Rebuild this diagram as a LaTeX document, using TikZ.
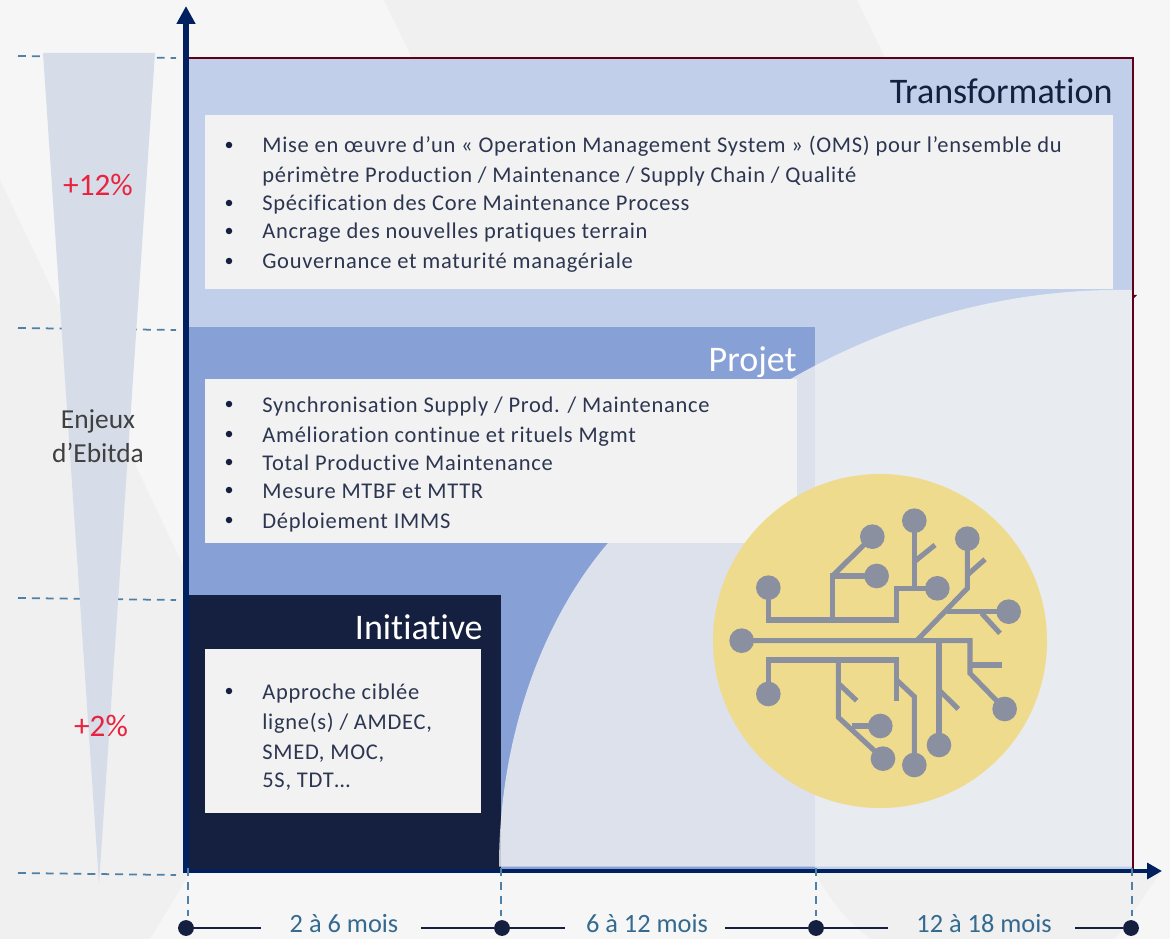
\documentclass[tikz,border=0pt]{standalone}
\usepackage{fontspec}
\setmainfont[Ligatures=NoCommon]{Carlito}
\newfontfamily\bodyfont[LetterSpace=3.2,Ligatures=NoCommon]{Carlito}
\usetikzlibrary{arrows.meta}
\definecolor{pagebg}{HTML}{F6F6F6}
\definecolor{swoosh}{HTML}{F0F0F0}
\definecolor{bandlight}{HTML}{C1CFEA}
\definecolor{bandmid}{HTML}{87A0D6}
\definecolor{banddark}{HTML}{152040}
\definecolor{panel}{HTML}{F2F2F2}
\definecolor{axisblue}{HTML}{002060}
\definecolor{frameline}{HTML}{600018}
\definecolor{guide}{HTML}{4F81A8}
\definecolor{wedge}{HTML}{D6DDE8}
\definecolor{gainred}{HTML}{E8233F}
\definecolor{bodytext}{HTML}{2C3650}
\definecolor{monthtext}{HTML}{346A90}
\definecolor{chipgold}{HTML}{EFDB8E}
\definecolor{chipline}{HTML}{8A909F}
\tikzset{
    guideline/.style={guide, line width=1pt, dash pattern=on 4.5pt off 3.4pt},
    panelbox/.style={fill=panel, draw=none},
    bodyline/.style={anchor=base west, inner sep=0pt, text=bodytext, font=\bodyfont\fontsize{12.8}{14}\selectfont},
    bulletdot/.style={circle, fill=banddark, inner sep=0pt, minimum size=3.7pt},
    bandtitle/.style={anchor=base east, inner sep=0pt, font=\fontsize{20.5}{24}\selectfont},
    gain/.style={text=gainred, inner sep=0pt, font=\fontsize{17.8}{20}\selectfont},
    monthlabel/.style={anchor=base, text=monthtext, inner sep=0pt, font=\fontsize{15}{16}\selectfont},
    monthdot/.style={circle, fill=banddark, inner sep=0pt, minimum size=9pt},
    monthline/.style={banddark, line width=1.5pt},
    track/.style={chipline, line width=2.9pt}
}
\begin{document}
\begin{tikzpicture}[x=0.02cm, y=-0.02cm]
    \useasboundingbox (0, 0) rectangle (1170, 939);
    \fill[pagebg] (0, 0) rectangle (1170, 939);

    % Faint shapes of the backdrop
    \fill[swoosh] (384, 0) -- (857, 0) -- (885, 58) -- (412, 58) -- cycle;
    \fill[swoosh] (0, 180) -- (190, 580) -- (190, 873) -- (150, 939) -- (0, 939) -- cycle;
    \fill[swoosh] (815, 873) .. controls (830, 900) and (850, 925) .. (871, 939) -- (1115, 939) -- (1160, 873) -- cycle;

    % The three nested bands
    \fill[bandlight] (188, 58) rectangle (1133, 869);
    \fill[bandmid] (188, 327) rectangle (815, 869);
    \fill[banddark] (188, 595) rectangle (501, 869);

    % Text panels
    \fill[panelbox] (205, 115) rectangle (1113, 289);
    \fill[panelbox] (205, 379) rectangle (797, 543);
    \fill[panelbox] (205, 649) rectangle (481, 813);

    % Veil under the curve
    \fill[panel, opacity=0.8] (499, 866.5) .. controls (499, 745) and (538, 625) .. (608, 543)
        .. controls (680, 430) and (880, 285) .. (1133, 290) -- (1133, 866.5) -- cycle;

    \draw[frameline, line width=1.5pt] (188, 58) -- (1133, 58) -- (1133, 869);
    \fill[frameline] (1133, 295) -- (1137, 295) -- (1134, 298) -- cycle;

    % Titles
    \node[bandtitle, text=banddark] (transformation) at (1113, 104) {Transformation};
    \node[bandtitle, text=white] (projet) at (797, 371) {Projet};
    \node[bandtitle, text=white] (initiative) at (483, 639) {Initiative};

    % Lines of the panels
    \foreach \y/\t in {
        153/{Mise en œuvre d’un « Operation Management System » (OMS) pour l’ensemble du},
        183/{périmètre Production / Maintenance / Supply Chain / Qualité},
        211/{Spécification des Core Maintenance Process},
        239/{Ancrage des nouvelles pratiques terrain},
        269/{Gouvernance et maturité managériale},
        412/{Synchronisation Supply / Prod. / Maintenance},
        442/{Amélioration continue et rituels Mgmt},
        470/{Total Productive Maintenance},
        498/{Mesure MTBF et MTTR},
        528/{Déploiement IMMS},
        699/{Approche ciblée},
        729/{ligne(s) / AMDEC,},
        759/{SMED, MOC,},
        787/{5S, TDT…}
    }
    \node[bodyline] at (262, \y) {\t};
    \foreach \y in {145, 203, 231, 261, 404, 434, 462, 490, 520, 691}
    \node[bulletdot] at (229, \y) {};

    % Gain wedge
    \draw[guideline] (18, 56) -- (176, 58);
    \draw[guideline] (18, 328) -- (176, 330);
    \draw[guideline] (18, 598) -- (176, 600);
    \draw[guideline] (18, 873) -- (176, 875);
    \fill[wedge] (43, 53) -- (155, 53) -- (99, 884) -- cycle;
    \node[gain] (gainhigh) at (98, 185) {+12\%};
    \node[gain] (gainlow) at (101, 726) {+2\%};
    \node[align=center, inner sep=0pt, text=black!75, font=\fontsize{15.6}{19}\selectfont] (enjeux) at (98, 436) {Enjeux\\d’Ebitda};

    % Chip badge
    \fill[chipgold] (880, 641) circle (167);
    \begin{scope}[shift={(700, 490)}, x=0.00667cm, y=-0.00667cm]
        \draw[track] (205, 293) -- (205, 390) -- (590, 390) -- (590, 295) -- (712, 295);
        \draw[track] (397, 390) -- (397, 258) -- (530, 258);
        \draw[track] (397, 258) -- (517, 140);
        \draw[track] (643, 92) -- (643, 295);
        \draw[track] (643, 215) -- (705, 165);
        \draw[track] (125, 452) -- (810, 452) -- (810, 550) -- (914, 657);
        \draw[track] (810, 525) -- (905, 525);
        \draw[track] (650, 452) -- (802, 295) -- (802, 146);
        \draw[track] (802, 255) -- (855, 208);
        \draw[track] (740, 365) -- (926, 365);
        \draw[track] (845, 370) -- (900, 430);
        \draw[track] (205, 612) -- (205, 510) -- (590, 510) -- (590, 632);
        \draw[track] (590, 570) -- (643, 620) -- (643, 825);
        \draw[track] (415, 510) -- (415, 682) -- (549, 806);
        \draw[track] (415, 580) -- (470, 632);
        \draw[track] (455, 708) -- (541, 708);
        \draw[track] (717, 452) -- (717, 765);
        \draw[track] (717, 600) -- (775, 657);
        \foreach \x/\y in {
            517/140, 530/258, 643/92, 802/146, 712/295, 205/293, 926/365,
            125/452, 205/612, 541/708, 549/806, 643/825, 717/765, 914/657
        }
        \fill[chipline] (\x, \y) circle (37);
    \end{scope}

    % Axes
    \coordinate (origin) at (186, 871);
    \coordinate (ybase) at (186, 873);
    \coordinate (ytop) at (186, 6);
    \coordinate (xend) at (1162, 871);
    \draw[axisblue, line width=3.4pt, -{Triangle[length=10.2pt,width=10.2pt]}] (ybase) -- (ytop);
    \draw[axisblue, line width=2.3pt, -{Triangle[length=8.5pt,width=9pt]}] (origin) -- (xend);

    % Time scale
    \node[monthdot] (m0) at (186, 928) {};
    \node[monthdot] (m1) at (502, 928) {};
    \node[monthdot] (m2) at (816, 928) {};
    \node[monthdot] (m3) at (1131, 928) {};
    \coordinate (g0) at (188, 868);
    \coordinate (g1) at (501, 868);
    \coordinate (g2) at (816, 868);
    \coordinate (g3) at (1132, 868);
    \foreach \i in {0, 1, 2, 3}
    \draw[guideline] (g\i) -- ++(0, 48);

    \node[monthlabel] (l0) at (344, 932) {2 à 6 mois};
    \node[monthlabel] (l1) at (647, 932) {6 à 12 mois};
    \node[monthlabel] (l2) at (984, 932) {12 à 18 mois};
    \coordinate (l0a) at (261, 928);
    \coordinate (l0b) at (421, 928);
    \coordinate (l1a) at (565, 928);
    \coordinate (l1b) at (725, 928);
    \coordinate (l2a) at (888, 928);
    \coordinate (l2b) at (1075, 928);
    \draw[monthline] (m0) -- (l0a);
    \draw[monthline] (l0b) -- (m1);
    \draw[monthline] (m1) -- (l1a);
    \draw[monthline] (l1b) -- (m2);
    \draw[monthline] (m2) -- (l2a);
    \draw[monthline] (l2b) -- (m3);
\end{tikzpicture}
\end{document}
